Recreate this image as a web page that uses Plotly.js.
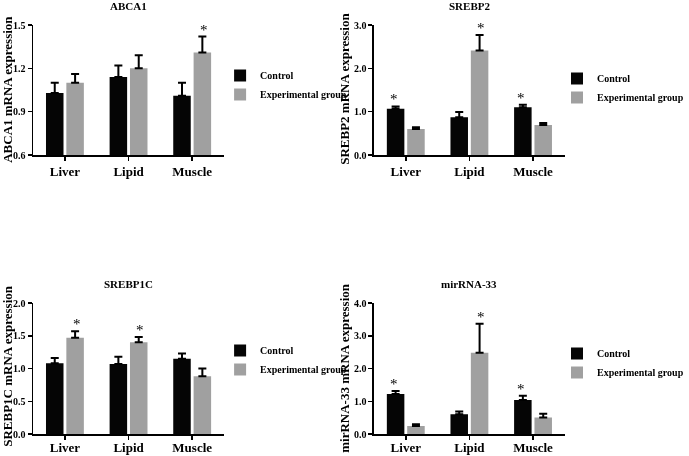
<!DOCTYPE html>
<html>
<head>
<meta charset="utf-8">
<script src="https://cdn.plot.ly/plotly-3.0.1.min.js"></script>
<style>html,body{margin:0;padding:0;background:#fff;}#chart{width:689px;height:456px;}#chart svg{will-change:transform;}</style>
</head>
<body>
<div id="chart"></div>
<script>
const categories = ["Liver", "Lipid", "Muscle"];
const seriesNames = ["Control", "Experimental group"];

const abca1Control = [1.03, 1.14, 1.01];
const abca1ControlErr = [0.07, 0.08, 0.09];
const abca1Exp = [1.10, 1.20, 1.31];
const abca1ExpErr = [0.06, 0.09, 0.11];
const abca1ControlSig = [false, false, false];
const abca1ExpSig = [false, false, true];

const srebp2Control = [1.07, 0.87, 1.10];
const srebp2ControlErr = [0.05, 0.12, 0.06];
const srebp2Exp = [0.60, 2.41, 0.69];
const srebp2ExpErr = [0.04, 0.36, 0.05];
const srebp2ControlSig = [true, false, true];
const srebp2ExpSig = [false, true, false];

const srebp1cControl = [1.08, 1.07, 1.15];
const srebp1cControlErr = [0.08, 0.11, 0.08];
const srebp1cExp = [1.47, 1.40, 0.88];
const srebp1cExpErr = [0.10, 0.08, 0.12];
const srebp1cControlSig = [false, false, false];
const srebp1cExpSig = [true, true, false];

const mir33Control = [1.22, 0.60, 1.04];
const mir33ControlErr = [0.09, 0.09, 0.13];
const mir33Exp = [0.245, 2.48, 0.50];
const mir33ExpErr = [0.055, 0.89, 0.12];
const mir33ControlSig = [true, false, true];
const mir33ExpSig = [false, true, false];

const panels = [
  {title: "ABCA1", ytitle: "ABCA1 mRNA expression", ctrl: abca1Control, ctrlErr: abca1ControlErr, exp: abca1Exp, expErr: abca1ExpErr, cs: abca1ControlSig, es: abca1ExpSig, range: [0.6, 1.5], dtick: 0.3, tick0: 0.6},
  {title: "SREBP2", ytitle: "SREBP2 mRNA expression", ctrl: srebp2Control, ctrlErr: srebp2ControlErr, exp: srebp2Exp, expErr: srebp2ExpErr, cs: srebp2ControlSig, es: srebp2ExpSig, range: [0, 3.0], dtick: 1.0, tick0: 0},
  {title: "SREBP1C", ytitle: "SREBP1C mRNA expression", ctrl: srebp1cControl, ctrlErr: srebp1cControlErr, exp: srebp1cExp, expErr: srebp1cExpErr, cs: srebp1cControlSig, es: srebp1cExpSig, range: [0, 2.0], dtick: 0.5, tick0: 0},
  {title: "mirRNA-33", ytitle: "mirRNA-33 mRNA expression", ctrl: mir33Control, ctrlErr: mir33ControlErr, exp: mir33Exp, expErr: mir33ExpErr, cs: mir33ControlSig, es: mir33ExpSig, range: [0, 4.0], dtick: 1.0, tick0: 0}
];

const W = 689, H = 456;
// pixel boxes [x0, x1, yTop, yBottom]
const boxes = [[34, 230, 25, 155], [384, 580, 25, 155], [34, 230, 303, 434], [384, 580, 303, 434]];
const legendPos = [[226, 61], [572, 64], [226, 336], [572, 339]];
const yTitlePos = [[7, 89], [353, 89], [7, 366], [353, 368]];
const xLabelShift = [0, 0, -3, -3];

const FONT = "Liberation Serif, Times New Roman, serif";
const CTRL_COLOR = "#050505";
const EXP_COLOR = "#a0a0a0";

const traces = [];
const annotations = [];
const layout = {
  width: W, height: H,
  margin: {l: 0, r: 0, t: 0, b: 0},
  paper_bgcolor: "#fff", plot_bgcolor: "#fff",
  barmode: "group", bargap: 0.36, bargroupgap: 0.14,
  font: {family: FONT, color: "#000"},
  annotations: annotations,
  showlegend: true
};

panels.forEach((p, i) => {
  const n = i + 1;
  const xa = "x" + (n === 1 ? "" : n), ya = "y" + (n === 1 ? "" : n);
  const legendId = "legend" + (n === 1 ? "" : n);
  const b = boxes[i];
  const zeros = p.ctrl.map(() => 0);
  traces.push({
    type: "bar", x: categories, y: p.ctrl, name: seriesNames[0],
    xaxis: xa, yaxis: ya, legend: legendId,
    marker: {color: CTRL_COLOR, line: {width: 0}},
    error_y: {type: "data", symmetric: false, array: p.ctrlErr, arrayminus: zeros, color: "#000", thickness: 2, width: 4},
    hoverinfo: "none"
  });
  traces.push({
    type: "bar", x: categories, y: p.exp, name: seriesNames[1],
    xaxis: xa, yaxis: ya, legend: legendId,
    marker: {color: EXP_COLOR, line: {width: 0}},
    error_y: {type: "data", symmetric: false, array: p.expErr, arrayminus: zeros, color: "#000", thickness: 2, width: 4},
    hoverinfo: "none"
  });
  layout["xaxis" + (n === 1 ? "" : n)] = {
    domain: [b[0] / W, b[1] / W], anchor: ya,
    type: "category", range: [-0.5, 2.5],
    showline: true, linecolor: "#000", linewidth: 1.5,
    ticks: "outside", ticklen: 4, tickwidth: 1.5, tickcolor: "#000",
    ticklabelstandoff: xLabelShift[i],
    showgrid: false, zeroline: false,
    tickfont: {family: FONT, size: 13, color: "#000", weight: "bold"}
  };
  layout["yaxis" + (n === 1 ? "" : n)] = {
    domain: [1 - b[3] / H, 1 - b[2] / H], anchor: xa,
    range: p.range, tick0: p.tick0, dtick: p.dtick, tickformat: ".1f",
    showline: true, linecolor: "#000", linewidth: 1.5,
    ticks: "outside", ticklen: 4, tickwidth: 1.5, tickcolor: "#000",
    showgrid: false, zeroline: false,
    tickfont: {family: FONT, size: 10, color: "#000", weight: "bold"}
  };
  layout[legendId] = {
    x: legendPos[i][0] / W, y: 1 - legendPos[i][1] / H,
    xanchor: "left", yanchor: "top",
    font: {family: FONT, size: 10, color: "#000", weight: "bold"},
    bgcolor: "rgba(0,0,0,0)", borderwidth: 0,
    tracegroupgap: 0, itemwidth: 30
  };
  annotations.push({
    text: "<b>" + p.title + "</b>", xref: "paper", yref: "paper",
    x: ((b[0] + b[1]) / 2) / W, y: 1 - (b[2] - 19) / H,
    xanchor: "center", yanchor: "middle", showarrow: false,
    font: {family: FONT, size: 11, color: "#000"}
  });
  annotations.push({
    text: "<b>" + p.ytitle + "</b>", xref: "paper", yref: "paper",
    x: yTitlePos[i][0] / W, y: 1 - yTitlePos[i][1] / H, textangle: -90,
    xanchor: "center", yanchor: "middle", showarrow: false,
    font: {family: FONT, size: 13, color: "#000"}
  });
  const addStars = (vals, errs, sig, off) => {
    vals.forEach((v, k) => {
      if (!sig[k]) return;
      annotations.push({
        text: "*", xref: xa, yref: ya, x: k + off, y: v + errs[k],
        xanchor: "center", yanchor: "bottom", yshift: -3, showarrow: false,
        font: {family: FONT, size: 15, color: "#000"}
      });
    });
  };
  addStars(p.ctrl, p.ctrlErr, p.cs, -0.1825);
  addStars(p.exp, p.expErr, p.es, 0.1825);
});

Plotly.newPlot("chart", traces, layout, {displayModeBar: false, staticPlot: true});
</script>
</body>
</html>
